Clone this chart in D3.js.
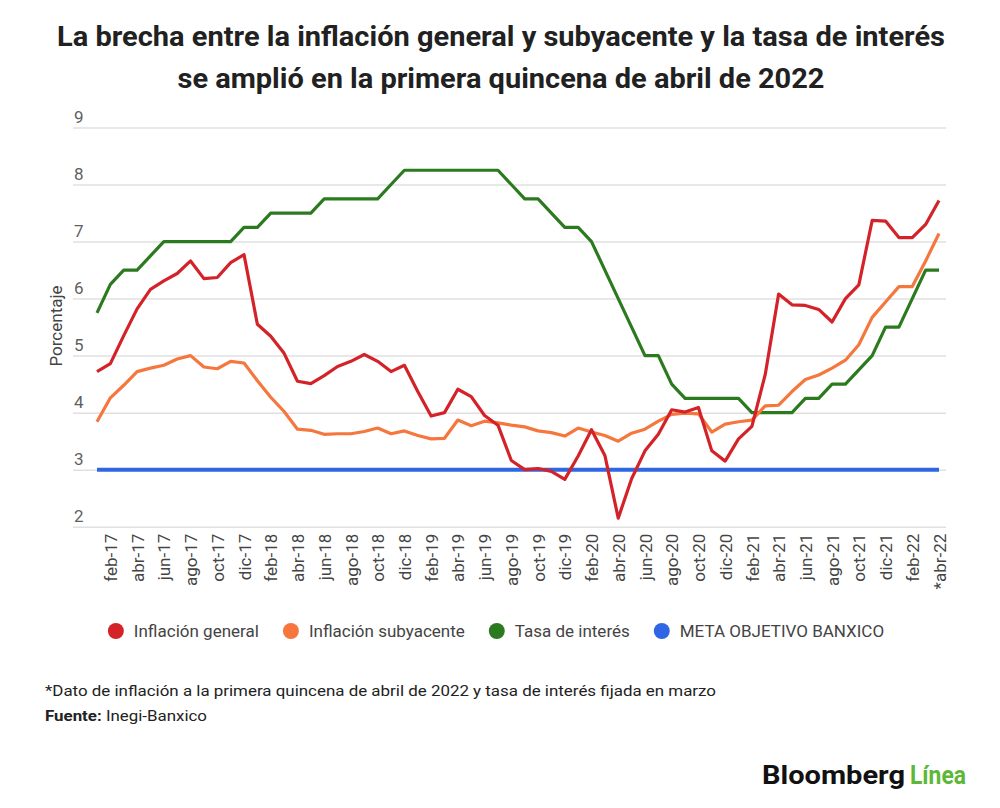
<!DOCTYPE html>
<html>
<head>
<meta charset="utf-8">
<script src="https://cdn.jsdelivr.net/npm/d3@7"></script>
<style>
  body { margin: 0; background: #fff; }
  svg { display: block; font-family: Roboto, "Noto Sans", sans-serif; }
</style>
</head>
<body>
<svg id="chart" width="1000" height="808"></svg>
<script>
// ---------- DATA ----------
const months = [
  "ene-17","feb-17","mar-17","abr-17","may-17","jun-17","jul-17","ago-17","sep-17","oct-17","nov-17","dic-17",
  "ene-18","feb-18","mar-18","abr-18","may-18","jun-18","jul-18","ago-18","sep-18","oct-18","nov-18","dic-18",
  "ene-19","feb-19","mar-19","abr-19","may-19","jun-19","jul-19","ago-19","sep-19","oct-19","nov-19","dic-19",
  "ene-20","feb-20","mar-20","abr-20","may-20","jun-20","jul-20","ago-20","sep-20","oct-20","nov-20","dic-20",
  "ene-21","feb-21","mar-21","abr-21","may-21","jun-21","jul-21","ago-21","sep-21","oct-21","nov-21","dic-21",
  "ene-22","feb-22","mar-22","*abr-22"
];
const inflacionGeneral = [
  4.72,4.86,5.35,5.82,6.16,6.31,6.44,6.66,6.35,6.37,6.63,6.77,
  5.55,5.34,5.04,4.55,4.51,4.65,4.81,4.90,5.02,4.90,4.72,4.83,
  4.37,3.94,4.00,4.41,4.28,3.95,3.78,3.16,3.00,3.02,2.97,2.83,
  3.24,3.70,3.25,2.15,2.84,3.33,3.62,4.05,4.01,4.09,3.33,3.15,
  3.54,3.76,4.67,6.08,5.89,5.88,5.81,5.59,6.00,6.24,7.37,7.36,
  7.07,7.07,7.30,7.72
];
const inflacionSubyacente = [
  3.84,4.26,4.48,4.72,4.78,4.83,4.94,5.00,4.80,4.77,4.90,4.87,
  4.56,4.27,4.02,3.71,3.69,3.62,3.63,3.63,3.67,3.73,3.63,3.68,
  3.60,3.54,3.55,3.87,3.77,3.85,3.82,3.78,3.75,3.68,3.65,3.59,
  3.73,3.66,3.60,3.50,3.64,3.71,3.85,3.97,3.99,3.98,3.66,3.80,
  3.84,3.87,4.12,4.13,4.37,4.58,4.66,4.78,4.92,5.19,5.67,5.94,
  6.21,6.21,6.66,7.14
];
const tasaInteres = [
  5.75,6.25,6.50,6.50,6.75,7.00,7.00,7.00,7.00,7.00,7.00,7.25,
  7.25,7.50,7.50,7.50,7.50,7.75,7.75,7.75,7.75,7.75,8.00,8.25,
  8.25,8.25,8.25,8.25,8.25,8.25,8.25,8.00,7.75,7.75,7.50,7.25,
  7.25,7.00,6.50,6.00,5.50,5.00,5.00,4.50,4.25,4.25,4.25,4.25,
  4.25,4.00,4.00,4.00,4.00,4.25,4.25,4.50,4.50,4.75,5.00,5.50,
  5.50,6.00,6.50,6.50
];
const metaBanxico = months.map(() => 3);
const yTicks = [2,3,4,5,6,7,8,9];
const seriesNames = ["Inflación general","Inflación subyacente","Tasa de interés","META OBJETIVO BANXICO"];
const titleLines = [
  "La brecha entre la inflación general y subyacente y la tasa de interés",
  "se amplió en la primera quincena de abril de 2022"
];
const yTitle = "Porcentaje";
const noteText = "*Dato de inflación a la primera quincena de abril de 2022 y tasa de interés fijada en marzo";

// ---------- DRAW ----------
const colors = ["#d42229", "#f5773d", "#2c7a1f", "#2f66e3"];
const svg = d3.select("#chart");

// Title
svg.append("text").attr("x", 501).attr("y", 46).attr("text-anchor", "middle")
  .attr("font-size", 27).attr("font-weight", 700).attr("fill", "#212121")
  .attr("textLength", 888).attr("lengthAdjust", "spacingAndGlyphs").text(titleLines[0]);
svg.append("text").attr("x", 501).attr("y", 88).attr("text-anchor", "middle")
  .attr("font-size", 27).attr("font-weight", 700).attr("fill", "#212121")
  .attr("textLength", 647).attr("lengthAdjust", "spacingAndGlyphs").text(titleLines[1]);

const x = d3.scalePoint().domain(months).range([97, 939]);
const y = d3.scaleLinear().domain([2, 9]).range([526.7, 127.5]);

// Y grid + labels
const yAxis = svg.append("g").attr("transform", "translate(73,0)")
  .call(d3.axisRight(y).tickValues(yTicks).tickSize(873).tickFormat(d3.format("d")));
yAxis.select(".domain").remove();
yAxis.selectAll(".tick line").attr("stroke", "#e0e0e0").attr("stroke-width", 1.5);
yAxis.selectAll(".tick text").attr("x", 1).attr("dy", -5).attr("text-anchor", "start")
  .attr("font-size", 17).attr("fill", "#5f5f5f").attr("font-family", "Roboto");

// Y title
svg.append("text").attr("transform", "translate(62,326) rotate(-90)").attr("text-anchor", "middle")
  .attr("font-size", 17).attr("fill", "#444").attr("font-family", "Roboto").text(yTitle);

// X axis
const xAxis = svg.append("g").attr("transform", `translate(0,${y(2)})`)
  .call(d3.axisBottom(x).tickValues(months.filter((d, i) => i % 2 === 1)).tickSize(0));
xAxis.select(".domain").remove();
xAxis.selectAll(".tick text")
  .attr("transform", "rotate(-90)").attr("x", -7).attr("y", 0).attr("dy", "0.36em")
  .attr("text-anchor", "end").attr("font-size", 17).attr("fill", "#444").attr("font-family", "Roboto");

// Lines
const line = d3.line().x((d, i) => x(months[i])).y(d => y(d)).curve(d3.curveLinear);
const series = [inflacionGeneral, inflacionSubyacente, tasaInteres];
svg.append("path").datum(metaBanxico).attr("d", line).attr("fill", "none")
  .attr("stroke", colors[3]).attr("stroke-width", 4);
[tasaInteres, inflacionSubyacente, inflacionGeneral].forEach((s) => {
  const idx = series.indexOf(s);
  svg.append("path").datum(s).attr("d", line).attr("fill", "none")
    .attr("stroke", colors[idx]).attr("stroke-width", 3.2)
    .attr("stroke-linejoin", "round");
});

// Legend
const legend = svg.append("g");
let cx = 0;
seriesNames.forEach((name, i) => {
  const g = legend.append("g").attr("transform", `translate(${cx},0)`);
  g.append("circle").attr("cx", 8).attr("cy", 0).attr("r", 8).attr("fill", colors[i]);
  const t = g.append("text").attr("x", 26).attr("y", 0).attr("dy", "0.35em")
    .attr("font-size", 17).attr("fill", "#444").attr("font-family", "Roboto").text(name);
  cx += 26 + t.node().getComputedTextLength() + 24;
});
const legW = cx - 24;
legend.attr("transform", `translate(${496 - legW / 2},631)`);

// Notes
svg.append("text").attr("x", 45).attr("y", 696).attr("font-size", 15.5).attr("fill", "#222")
  .attr("textLength", 671).attr("lengthAdjust", "spacingAndGlyphs").text(noteText);
const src = svg.append("text").attr("x", 45).attr("y", 721).attr("font-size", 15.5).attr("fill", "#222")
  .attr("textLength", 162).attr("lengthAdjust", "spacingAndGlyphs");
src.append("tspan").attr("font-weight", 700).text("Fuente:");
src.append("tspan").text(" Inegi-Banxico");

// Logo
svg.append("text").attr("x", 762).attr("y", 784).attr("font-size", 26).attr("font-weight", 700)
  .attr("fill", "#111").attr("textLength", 143).attr("lengthAdjust", "spacingAndGlyphs").text("Bloomberg");
svg.append("text").attr("x", 910).attr("y", 784).attr("font-size", 26).attr("font-weight", 700)
  .attr("fill", "#5cb836").attr("textLength", 56).attr("lengthAdjust", "spacingAndGlyphs").text("Línea");
</script>
</body>
</html>
